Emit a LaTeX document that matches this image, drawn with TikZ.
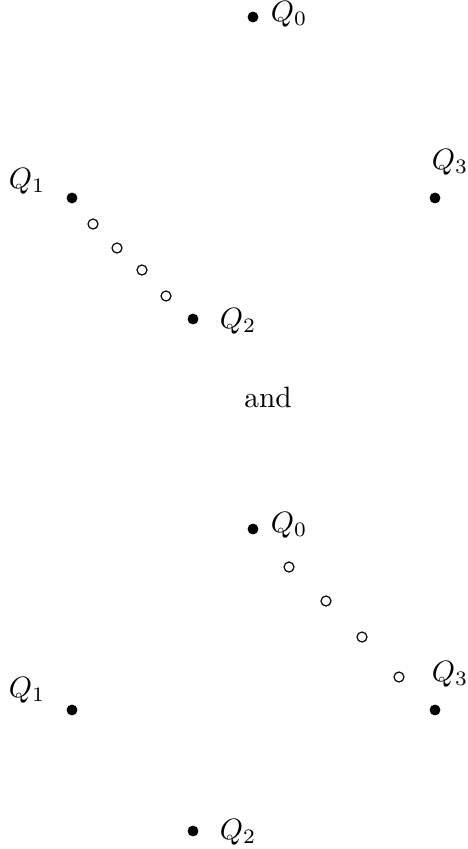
\documentclass[tikz,border=0pt]{standalone}
\begin{document}
\begin{tikzpicture}[x=0.34pt,y=-0.34pt,
  fdot/.style={circle,fill=black,inner sep=0pt,minimum size=3.7pt},
  odot/.style={circle,draw=black,line width=0.4pt,inner sep=0pt,minimum size=3.4pt},
  lbl/.style={inner sep=0pt,font=\normalsize}]
\useasboundingbox (0,0) rectangle (467,849);
% top figure
\node[fdot] (a0) at (253,17) {};
\node[fdot] (a1) at (72,198) {};
\node[fdot] (a2) at (193,319) {};
\node[fdot] (a3) at (435,198) {};
\node[odot] (ac1) at (93,224) {};
\node[odot] (ac2) at (117,248) {};
\node[odot] (ac3) at (142,270) {};
\node[odot] (ac4) at (166,296) {};
\node[lbl] (la0) at (289,14) {$Q_0$};
\node[lbl] (la1) at (27,181) {$Q_1$};
\node[lbl] (la2) at (238,321) {$Q_2$};
\node[lbl] (la3) at (450,162) {$Q_3$};
\node[lbl] (and) at (268,397) {and};
% bottom figure
\node[fdot] (b0) at (253,529) {};
\node[fdot] (b1) at (72,710) {};
\node[fdot] (b2) at (193,831) {};
\node[fdot] (b3) at (435,710) {};
\node[odot] (bc1) at (289,567) {};
\node[odot] (bc2) at (326,601) {};
\node[odot] (bc3) at (362,637) {};
\node[odot] (bc4) at (399,677) {};
\node[lbl] (lb0) at (289,525) {$Q_0$};
\node[lbl] (lb1) at (27,690) {$Q_1$};
\node[lbl] (lb2) at (238,832) {$Q_2$};
\node[lbl] (lb3) at (450,674) {$Q_3$};
\end{tikzpicture}
\end{document}
